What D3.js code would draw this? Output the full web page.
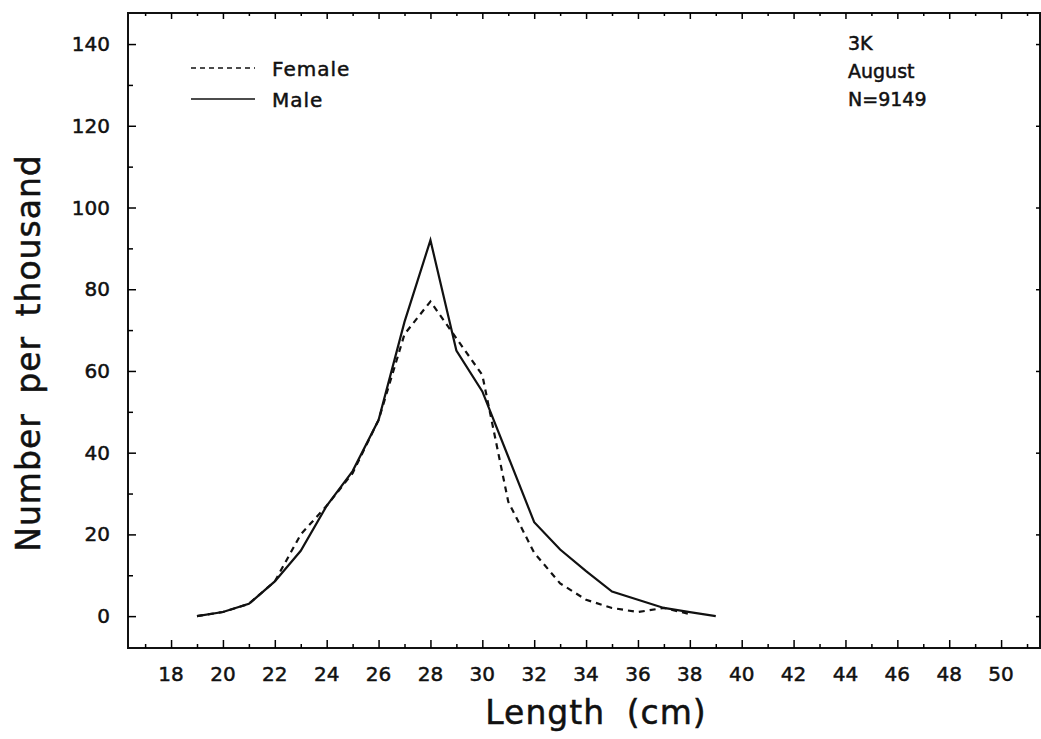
<!DOCTYPE html>
<html>
<script src="https://cdnjs.cloudflare.com/ajax/libs/d3/7.8.5/d3.min.js"></script>

<style>
	body { margin: 0; background: #fff; }
	text { font-family: "DejaVu Sans", sans-serif; fill: #111; stroke: #111; stroke-width: 0.5px; }
</style>

<body>
	<svg id="chart"></svg>
</body>

<script type="text/javascript">

	// data (length in cm, number per thousand)
	let lengths = [19, 20, 21, 22, 23, 24, 25, 26, 27, 28, 29, 30, 31, 32, 33, 34, 35, 36, 37, 38, 39]
	let maleValues = [0, 1, 3, 8.5, 16, 27, 35.5, 48, 72, 92, 65, 55, 39, 23, 16.3, 11, 6, 4, 2, 1, 0]
	let femaleLengths = [19, 20, 21, 22, 23, 24, 25, 26, 27, 28, 29, 30, 31, 32, 33, 34, 35, 36, 37, 38]
	let femaleValues = [0, 1, 3, 8.5, 20, 27, 35, 48, 69, 77, 68, 59, 28, 15.5, 8, 4, 2, 1, 2, 0.5]

	let xTicks = [18, 20, 22, 24, 26, 28, 30, 32, 34, 36, 38, 40, 42, 44, 46, 48, 50]
	let xMinorTicks = [17, 19, 21, 23, 25, 27, 29, 31, 33, 35, 37, 39, 41, 43, 45, 47, 49, 51]
	let yTicks = [0, 20, 40, 60, 80, 100, 120, 140]
	let yMinorTicks = [10, 30, 50, 70, 90, 110, 130]

	let legendNames = ["Female", "Male"]
	let infoLines = ["3K", "August", "N=9149"]

	let width = 1041
	let height = 739
	let plotLeft = 128, plotRight = 1040, plotTop = 13, plotBottom = 648

	let chart = d3.select("#chart")
		.attr("width", width)
		.attr("height", height)

	let xScale = d3.scaleLinear()
		.domain([16.34, 51.5])
		.range([plotLeft, plotRight])

	let yScale = d3.scaleLinear()
		.domain([-7.8, 147.6])
		.range([plotBottom, plotTop])

	// frame
	chart.append("rect")
		.attr("x", plotLeft).attr("y", plotTop)
		.attr("width", plotRight - plotLeft).attr("height", plotBottom - plotTop)
		.style("fill", "none").style("stroke", "#111").style("stroke-width", 2)

	// bottom axis, ticks point up into the plot
	chart.append("g")
		.attr("transform", "translate(0," + plotBottom + ")")
		.call(d3.axisTop(xScale).tickValues(xTicks).tickSize(8).tickFormat(""))
		.call(function(g){ g.select(".domain").remove() })
		.selectAll("line").style("stroke-width", 1.5)

	chart.append("g")
		.attr("transform", "translate(0," + plotBottom + ")")
		.call(d3.axisTop(xScale).tickValues(xMinorTicks).tickSize(4).tickFormat(""))
		.call(function(g){ g.select(".domain").remove() })
		.selectAll("line").style("stroke-width", 1.5)

	chart.append("g").selectAll("text")
		.data(xTicks)
		.enter().append("text")
		.attr("x", function(d){ return xScale(d) })
		.attr("y", 681)
		.attr("text-anchor", "middle")
		.style("font-size", "20px")
		.text(function(d){ return d })

	// top axis
	chart.append("g")
		.attr("transform", "translate(0," + plotTop + ")")
		.call(d3.axisBottom(xScale).tickValues(xTicks).tickSize(6).tickFormat(""))
		.call(function(g){ g.select(".domain").remove() })
		.selectAll("line").style("stroke-width", 1.5)

	chart.append("g")
		.attr("transform", "translate(0," + plotTop + ")")
		.call(d3.axisBottom(xScale).tickValues(xMinorTicks).tickSize(3).tickFormat(""))
		.call(function(g){ g.select(".domain").remove() })
		.selectAll("line").style("stroke-width", 1.5)

	// left axis
	chart.append("g")
		.attr("transform", "translate(" + plotLeft + ",0)")
		.call(d3.axisRight(yScale).tickValues(yTicks).tickSize(8).tickFormat(""))
		.call(function(g){ g.select(".domain").remove() })
		.selectAll("line").style("stroke-width", 1.5)

	chart.append("g")
		.attr("transform", "translate(" + plotLeft + ",0)")
		.call(d3.axisRight(yScale).tickValues(yMinorTicks).tickSize(5).tickFormat(""))
		.call(function(g){ g.select(".domain").remove() })
		.selectAll("line").style("stroke-width", 1.5)

	chart.append("g").selectAll("text")
		.data(yTicks)
		.enter().append("text")
		.attr("x", 110)
		.attr("y", function(d){ return yScale(d) + 7 })
		.attr("text-anchor", "end")
		.style("font-size", "20px")
		.text(function(d){ return d })

	// right axis, only small major ticks
	chart.append("g")
		.attr("transform", "translate(" + plotRight + ",0)")
		.call(d3.axisLeft(yScale).tickValues(yTicks).tickSize(4).tickFormat(""))
		.call(function(g){ g.select(".domain").remove() })
		.selectAll("line").style("stroke-width", 1.5)

	// axis titles
	chart.append("text")
		.attr("x", 596)
		.attr("y", 724)
		.attr("text-anchor", "middle")
		.style("font-size", "33px")
		.style("letter-spacing", "1px")
		.style("word-spacing", "10px")
		.text("Length (cm)")

	chart.append("text")
		.attr("transform", "translate(40,353) rotate(-90)")
		.attr("text-anchor", "middle")
		.style("font-size", "33px")
		.style("letter-spacing", "1px")
		.style("word-spacing", "8px")
		.text("Number per thousand")

	// lines
	let lineGenerator = d3.line()
		.x(function(d){ return xScale(d[0]) })
		.y(function(d){ return yScale(d[1]) })

	let femaleData = femaleLengths.map(function(d, i){ return [d, femaleValues[i]] })
	let maleData = lengths.map(function(d, i){ return [d, maleValues[i]] })

	chart.append("path")
		.attr("d", lineGenerator(femaleData))
		.style("fill", "none").style("stroke", "#111").style("stroke-width", 2.2)
		.style("stroke-dasharray", "6,5")

	chart.append("path")
		.attr("d", lineGenerator(maleData))
		.style("fill", "none").style("stroke", "#111").style("stroke-width", 2.2)

	// legend
	let legend = chart.append("g").selectAll("g")
		.data(legendNames)
		.enter().append("g")
		.attr("transform", function(d, i){ return "translate(0," + (68 + i * 31) + ")" })

	legend.append("line")
		.attr("x1", 191).attr("x2", 255)
		.style("stroke", "#111").style("stroke-width", 1.5)
		.style("stroke-dasharray", function(d, i){ return i == 0 ? "5,4" : null })

	legend.append("text")
		.attr("x", 272).attr("y", 8)
		.style("font-size", "20px")
		.style("letter-spacing", "1px")
		.text(function(d){ return d })

	// info text top right
	chart.append("g").selectAll("text")
		.data(infoLines)
		.enter().append("text")
		.attr("x", 848)
		.attr("y", function(d, i){ return 50 + i * 28 })
		.style("font-size", "19px")
		.text(function(d){ return d })

</script>
</html>
